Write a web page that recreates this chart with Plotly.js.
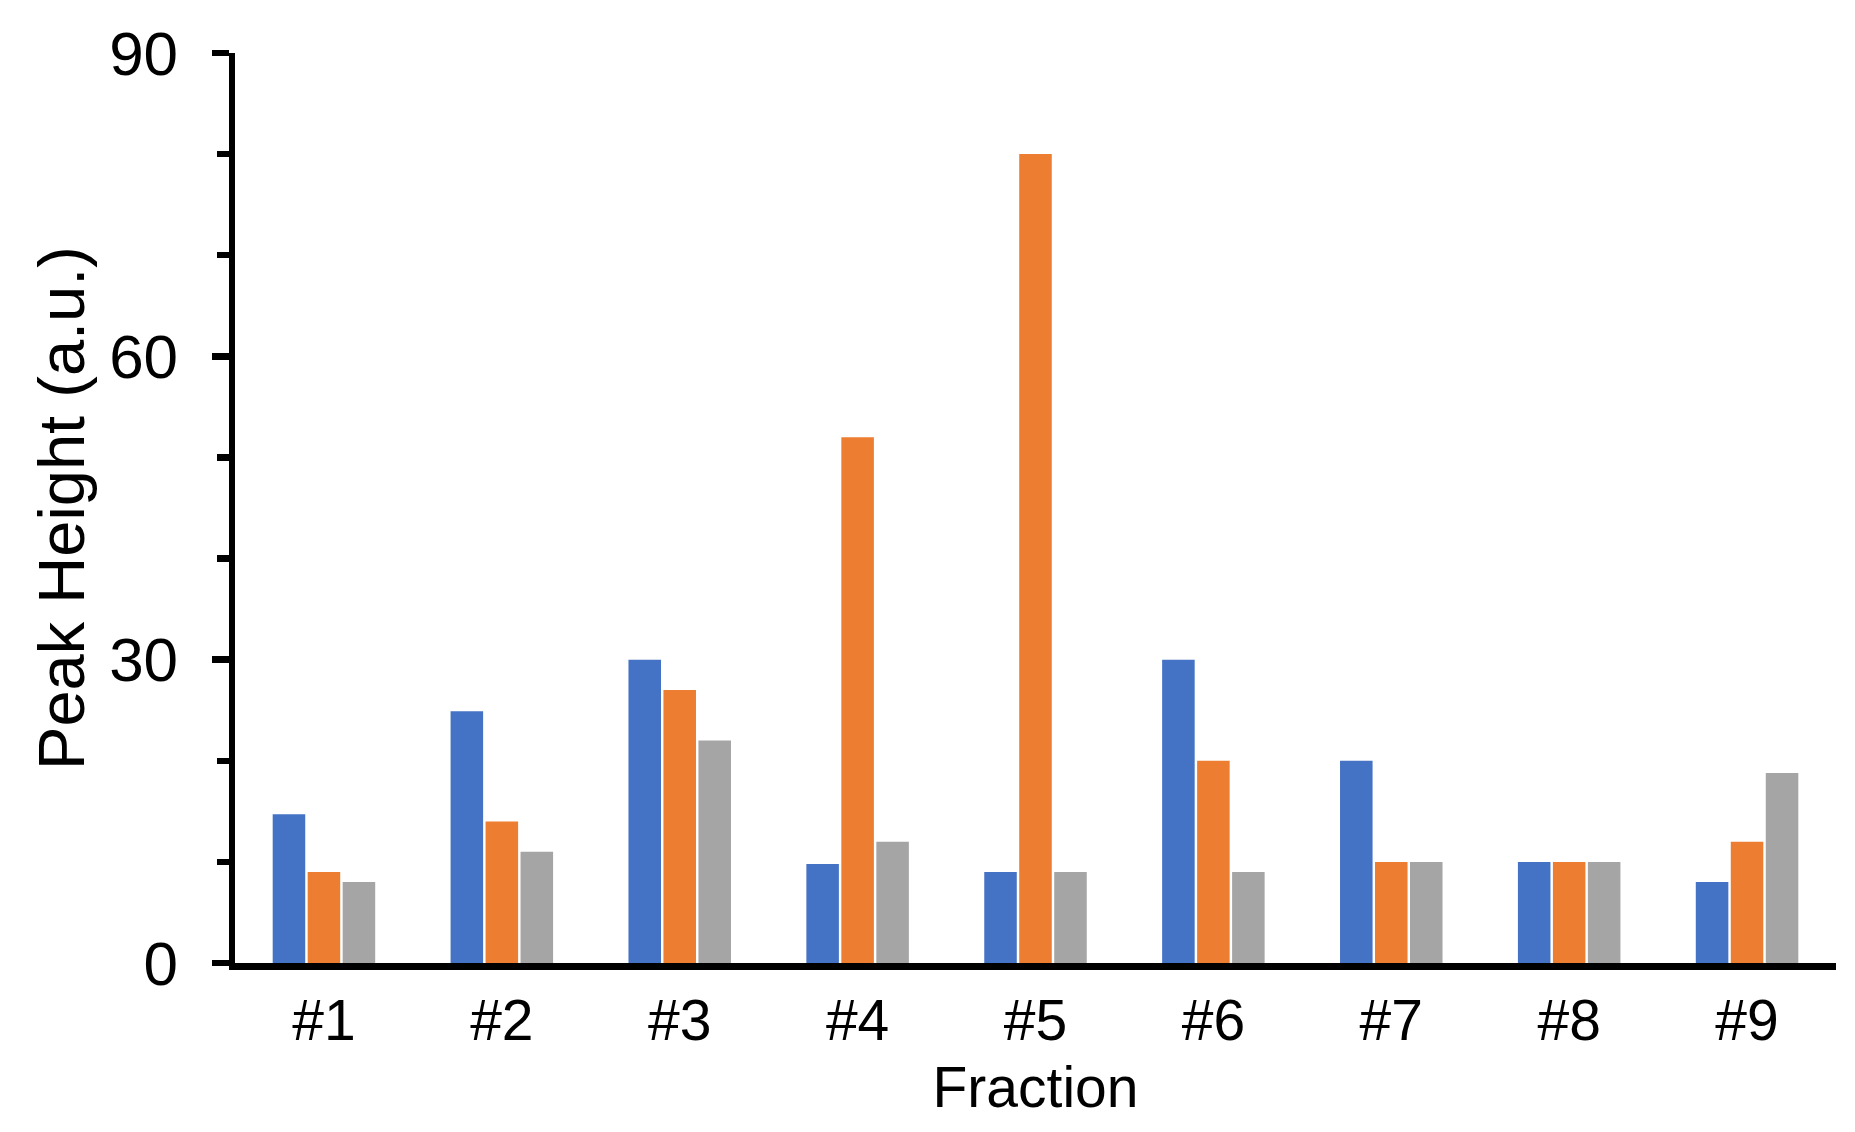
<!DOCTYPE html>
<html>
<head>
<meta charset="utf-8">
<script src="https://cdn.plot.ly/plotly-3.0.1.min.js"></script>
<style>
html, body { margin: 0; padding: 0; background: #ffffff; }
#chart { width: 1855px; height: 1132px; }
</style>
</head>
<body>
<div id="chart"></div>
<script>
const fractions = ["#1", "#2", "#3", "#4", "#5", "#6", "#7", "#8", "#9"];
const seriesBlue = [14.7, 24.9, 30, 9.8, 9, 30, 20, 10, 8];
const seriesOrange = [9, 14, 27, 52, 80, 20, 10, 10, 12];
const seriesGray = [8, 11, 22, 12, 9, 9, 10, 10, 18.8];
const yTickValues = [0, 30, 60, 90];

const fontFamily = '"Liberation Sans", Arial, Helvetica, sans-serif';

const traces = [
  { type: 'bar', x: fractions, y: seriesBlue, marker: { color: '#4472C4' }, name: 'Series 1' },
  { type: 'bar', x: fractions, y: seriesOrange, marker: { color: '#ED7D31' }, name: 'Series 2' },
  { type: 'bar', x: fractions, y: seriesGray, marker: { color: '#A5A5A5' }, name: 'Series 3' }
];

const layout = {
  width: 1855,
  height: 1132,
  paper_bgcolor: '#ffffff',
  plot_bgcolor: '#ffffff',
  showlegend: false,
  barmode: 'group',
  bargap: 0.41,
  bargroupgap: 0.07,
  margin: { l: 235, r: 19, t: 53, b: 169, pad: 0 },
  font: { family: fontFamily, color: '#000000' },
  xaxis: {
    type: 'category',
    range: [-0.5, 8.5],
    showline: true,
    linecolor: '#000000',
    linewidth: 6.5,
    ticks: '',
    showgrid: false,
    zeroline: false,
    tickfont: { size: 57, family: fontFamily, color: '#000000' },
    ticklabelstandoff: 2,
    title: { text: 'Fraction', font: { size: 57, family: fontFamily, color: '#000000' }, standoff: 18 }
  },
  yaxis: {
    range: [0, 90],
    tickmode: 'array',
    tickvals: yTickValues,
    ticktext: yTickValues.map(String),
    showline: true,
    linecolor: '#000000',
    linewidth: 6.5,
    ticks: 'outside',
    ticklen: 17,
    tickwidth: 6.5,
    tickcolor: '#000000',
    minor: { dtick: 10, tick0: 0, ticks: 'outside', ticklen: 12, tickwidth: 6.5, tickcolor: '#000000', showgrid: false },
    showgrid: false,
    zeroline: false,
    tickfont: { size: 62, family: fontFamily, color: '#000000' },
    ticklabelstandoff: 21,
    title: { text: 'Peak Height (a.u.)', font: { size: 65, family: fontFamily, color: '#000000' }, standoff: 6 }
  }
};

Plotly.newPlot('chart', traces, layout, { displayModeBar: false, staticPlot: true });
</script>
</body>
</html>
